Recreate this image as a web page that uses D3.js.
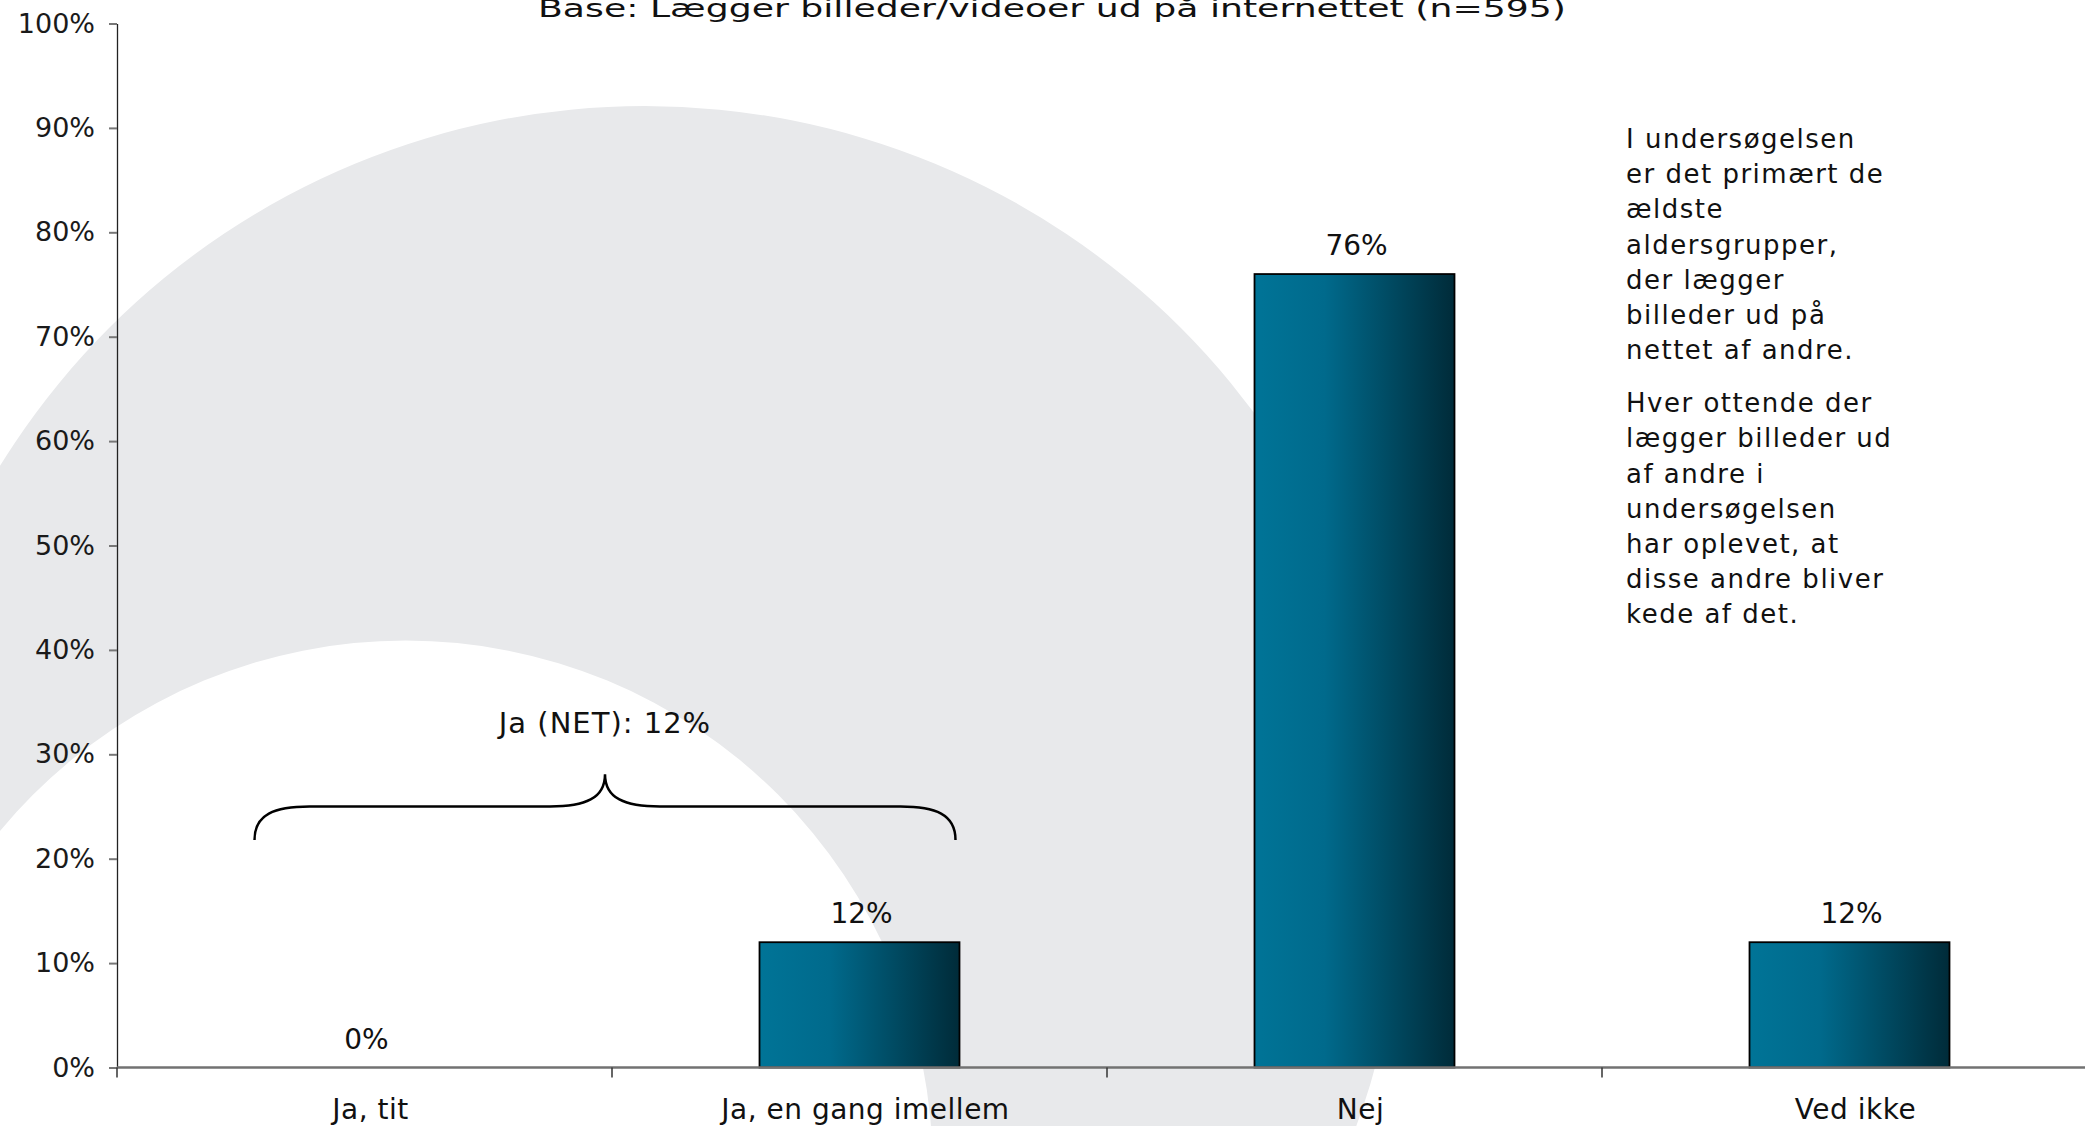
<!DOCTYPE html>
<html>
<head>
<meta charset="utf-8">
<script src="https://cdn.jsdelivr.net/npm/d3@7"></script>
<style>
  body { margin: 0; background: #fff; }
  svg { display: block; font-family: "DejaVu Sans", Verdana, sans-serif; }
</style>
</head>
<body>
<svg id="chart" width="2085" height="1126"></svg>
<script>
// data
var categories = ["Ja, tit", "Ja, en gang imellem", "Nej", "Ved ikke"];
var values = [0, 0.12, 0.76, 0.12];
var yTicks = [0, 0.1, 0.2, 0.3, 0.4, 0.5, 0.6, 0.7, 0.8, 0.9, 1];
var title = "Base: Lægger billeder/videoer ud på internettet (n=595)";
var netLabel = "Ja (NET): 12%";
var netCats = ["Ja, tit", "Ja, en gang imellem"];
var noteLines1 = ["I undersøgelsen", "er det primært de", "ældste", "aldersgrupper,", "der lægger", "billeder ud på", "nettet af andre."];
var noteLines2 = ["Hver ottende der", "lægger billeder ud", "af andre i", "undersøgelsen", "har oplevet, at", "disse andre bliver", "kede af det."];

var W = 2085, H = 1126;
var svg = d3.select("#chart");

var x = d3.scaleBand().domain(categories).range([117, 2097]).padding(0);
var y = d3.scaleLinear().domain([0, 1]).range([1067.5, 23.5]);
var barW = x.bandwidth() * 0.404;
function cx(c) { return x(c) + x.bandwidth() / 2; }

// background swoosh (outer circle minus inner circle)
function circlePath(cxp, cyp, r) {
  return "M" + (cxp - r) + "," + cyp +
    "a" + r + "," + r + " 0 1,0 " + (2 * r) + ",0" +
    "a" + r + "," + r + " 0 1,0 " + (-2 * r) + ",0Z";
}
svg.append("path")
  .attr("d", circlePath(645, 864, 758) + circlePath(405.6, 1167.5, 527))
  .attr("fill-rule", "evenodd")
  .attr("fill", "#e8e9eb");

// bar gradient
var defs = svg.append("defs");
var grad = defs.append("linearGradient").attr("id", "barGrad")
  .attr("x1", "0%").attr("x2", "100%").attr("y1", "0%").attr("y2", "0%");
grad.append("stop").attr("offset", "0%").attr("stop-color", "#007497");
grad.append("stop").attr("offset", "35%").attr("stop-color", "#006a8c");
grad.append("stop").attr("offset", "100%").attr("stop-color", "#002b39");

// title
svg.append("text")
  .attr("x", 1052).attr("y", 17)
  .attr("text-anchor", "middle")
  .attr("font-size", 25)
  .attr("textLength", 1028)
  .attr("lengthAdjust", "spacingAndGlyphs")
  .attr("fill", "#111")
  .text(title);

// bars
svg.selectAll("rect.bar")
  .data(categories.filter(function(c, i) { return values[i] > 0; }))
  .enter().append("rect")
  .attr("class", "bar")
  .attr("x", function(c) { return cx(c) - barW / 2; })
  .attr("width", barW)
  .attr("y", function(c) { return y(values[categories.indexOf(c)]); })
  .attr("height", function(c) { return y(0) - y(values[categories.indexOf(c)]); })
  .attr("fill", "url(#barGrad)")
  .attr("stroke", "#000")
  .attr("stroke-width", 1.8);

// value labels
svg.selectAll("text.val")
  .data(categories)
  .enter().append("text")
  .attr("class", "val")
  .attr("x", function(c) { return cx(c) + 2; })
  .attr("y", function(c, i) { return y(values[i]) - 19; })
  .attr("text-anchor", "middle")
  .attr("font-size", 28)
  .attr("fill", "#111")
  .text(function(c, i) { return d3.format(".0%")(values[i]); });

// y axis
var yAxis = svg.append("g")
  .attr("transform", "translate(117,0)")
  .call(d3.axisLeft(y).tickValues(yTicks).tickFormat(d3.format(".0%"))
    .tickSize(8).tickSizeOuter(0).tickPadding(14));
yAxis.select(".domain").attr("stroke", "#222").attr("stroke-width", 1.3);
yAxis.selectAll(".tick line").attr("stroke", "#777").attr("stroke-width", 2);
yAxis.selectAll(".tick text")
  .attr("font-size", 27)
  .attr("font-family", "DejaVu Sans")
  .attr("fill", "#1a1a1a");

// x axis line and category ticks
svg.append("line")
  .attr("x1", 117).attr("x2", W)
  .attr("y1", y(0)).attr("y2", y(0))
  .attr("stroke", "#727272").attr("stroke-width", 2.5);
svg.selectAll("line.xtick")
  .data(categories)
  .enter().append("line")
  .attr("class", "xtick")
  .attr("x1", function(c) { return x(c); })
  .attr("x2", function(c) { return x(c); })
  .attr("y1", y(0)).attr("y2", y(0) + 10)
  .attr("stroke", "#333").attr("stroke-width", 1.5);

// category labels
svg.selectAll("text.cat")
  .data(categories)
  .enter().append("text")
  .attr("class", "cat")
  .attr("x", function(c) { return cx(c) + 6; })
  .attr("y", 1119)
  .attr("text-anchor", "middle")
  .attr("font-size", 28)
  .attr("letter-spacing", "0.5px")
  .attr("fill", "#111")
  .text(function(c) { return c; });

// brace grouping the two "Ja" answers
var bL = cx(netCats[0]) - barW / 2 - 10;
var bR = cx(netCats[1]) + barW / 2 - 4;
var bM = (bL + bR) / 2;
var yEnd = y(0.218), yMid = y(0.25), yTip = y(0.281);
var r = 55;
var brace = d3.path();
brace.moveTo(bL, yEnd);
brace.bezierCurveTo(bL, yMid + 8, bL + 20, yMid, bL + r, yMid);
brace.lineTo(bM - r, yMid);
brace.bezierCurveTo(bM - 20, yMid, bM, yMid - 8, bM, yTip);
brace.bezierCurveTo(bM, yMid - 8, bM + 20, yMid, bM + r, yMid);
brace.lineTo(bR - r, yMid);
brace.bezierCurveTo(bR - 20, yMid, bR, yMid + 8, bR, yEnd);
svg.append("path")
  .attr("d", brace.toString())
  .attr("fill", "none")
  .attr("stroke", "#000")
  .attr("stroke-width", 2.5);

svg.append("text")
  .attr("x", bM).attr("y", y(0.32))
  .attr("text-anchor", "middle")
  .attr("font-size", 29)
  .attr("letter-spacing", "1px")
  .attr("fill", "#111")
  .text(netLabel);

// side note
var lineH = 35.2;
var note = svg.append("g").attr("font-size", 26).attr("letter-spacing", "1.5px").attr("fill", "#111");
note.selectAll("text.n1").data(noteLines1).enter().append("text")
  .attr("x", 1626).attr("y", function(d, i) { return 148 + i * lineH; })
  .text(function(d) { return d; });
note.selectAll("text.n2").data(noteLines2).enter().append("text")
  .attr("x", 1626).attr("y", function(d, i) { return 148 + 6 * lineH + 53 + i * lineH; })
  .text(function(d) { return d; });
</script>
</body>
</html>
